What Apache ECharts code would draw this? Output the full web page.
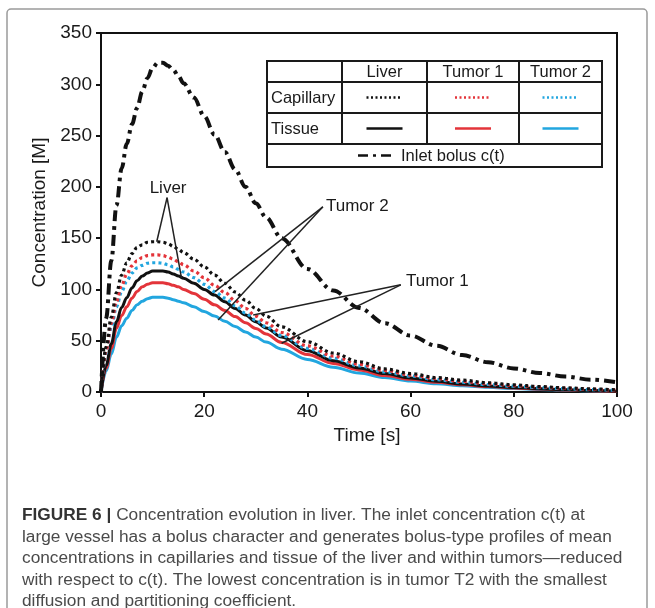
<!DOCTYPE html>
<html>
<head>
<meta charset="utf-8">
<script src="https://cdn.jsdelivr.net/npm/echarts@6/dist/echarts.min.js"></script>
<style>
html,body{margin:0;padding:0;background:#fff;}
#chart{width:655px;height:608px;}
</style>
</head>
<body>
<div id="chart"></div>
<script>
// ---- data ----
const time = [0,1,2,3,4,5,6,7,8,9,10,11,12,13,14,15,16,18,20,22,24,26,28,30,32,35,40,45,50,55,60,65,70,75,80,85,90,95,100];
const inletBolus = [0,72,128,182,218,242,261,277,293,306,316,321,321,318,314,308,301,287,269,251,234,217,200,184,170,150,120,99,82,67,55,45,36,29,23,18.5,15,12,9.5];
const liverCapillary = [0,44,73,97,114,126,135,141,143.5,146,146.5,146.5,146,144.5,142,139,136,129.5,122,114,106,97.5,89.5,81.5,74,63.5,49,38,29.5,22.5,18,14,11.5,9,7,5.3,4,3,2];
const tumor1Capillary = [0,40,67,88,104,115,123,128,131,133,133.6,133.6,133,131.5,129.5,127,124,118,111.5,104,97,89,81.5,74,67.5,58,45,35,27,21,16.5,13,10.3,8,6.2,4.8,3.6,2.6,1.8];
const tumor2Capillary = [0,38,63,83,98,108,116,121,123.5,125.5,126,126,125.5,124,122,119.5,117,111.5,105,98,91.5,84,77,70,63.5,55,42.5,33,25.5,19.5,15.5,12,9.5,7.3,5.6,4.3,3.2,2.3,1.6];
const liverTissue = [0,26,47,68.5,82.5,92,101.5,108.5,113,116,118,118,118,117,115,113,111,106,100,94.5,88,81.5,75,68.5,62.5,53.5,40.2,30.5,23.5,18,13.7,10.4,7.8,5.9,4.4,3.2,2.2,1.4,0.7];
const tumor1Tissue = [0,23.5,42.5,62,74.5,83,91.5,98,102.5,105,106.6,106.6,106.6,105.5,104,102.5,100,96,90.5,85,79.5,73.5,67.5,62,56.5,48.3,36.5,27.8,21.5,16,12.4,9.4,7,5.3,4,2.9,2,1.3,0.6];
const tumor2Tissue = [0,20.5,37,53.5,64.5,72,79.5,85,88.5,91,92.3,92.3,92.3,91.5,90,88.5,87,83,78.5,74,69,63.8,58.6,53.5,48.7,41.8,31.8,24.2,18.5,14.1,10.7,8,6,4.6,3.4,2.5,1.8,1.1,0.5];
const columnHeaders = ['Liver','Tumor 1','Tumor 2'];
const rowHeaders = ['Capillary','Tissue'];
const inletLabel = 'Inlet bolus c(t)';
const xAxisName = 'Time [s]';
const yAxisName = 'Concentration [M]';
const captionBold = 'FIGURE 6 |';
const captionLines = [
  ' Concentration evolution in liver. The inlet concentration c(t) at',
  'large vessel has a bolus character and generates bolus-type profiles of mean',
  'concentrations in capillaries and tissue of the liver and within tumors\u2014reduced',
  'with respect to c(t). The lowest concentration is in tumor T2 with the smallest',
  'diffusion and partitioning coefficient.'
];

// ---- chart ----
const FONT = '"Liberation Sans", Arial, Helvetica, sans-serif';
const BLACK = '#111';
const RED = '#e3343a';
const BLUE = '#22a6df';
const pairs = arr => time.map((t, i) => [t, arr[i]]);

const dotted = [3, 3.2];
const dashDot = [11, 5, 3.5, 5];

function curve(name, arr, color, type, width) {
  return {
    name, type: 'line', data: pairs(arr), showSymbol: false, symbol: 'none',
    smooth: 0.35, smoothMonotone: 'x', silent: true,
    lineStyle: { color, width, type, cap: 'butt' }, z: 3
  };
}

const chart = echarts.init(document.getElementById('chart'), null, { renderer: 'canvas' });

const option = {
  animation: false,
  backgroundColor: '#fff',
  grid: { left: 101, top: 33, width: 516, height: 359, show: true, borderColor: BLACK, borderWidth: 2, containLabel: false },
  xAxis: {
    type: 'value', min: 0, max: 100, interval: 20,
    name: xAxisName, nameLocation: 'middle', nameGap: 33,
    nameTextStyle: { fontFamily: FONT, fontSize: 19, color: '#1a1a1a', padding: [0, 0, 0, 16] },
    axisLine: { show: true, onZero: false, lineStyle: { color: BLACK, width: 2 } },
    axisTick: { show: true, inside: false, length: 5, lineStyle: { color: BLACK, width: 2 } },
    axisLabel: { fontFamily: FONT, fontSize: 19, color: '#1a1a1a', margin: 10 },
    splitLine: { show: false }
  },
  yAxis: {
    type: 'value', min: 0, max: 350, interval: 50,
    name: yAxisName, nameLocation: 'middle', nameGap: 45, nameRotate: 90,
    nameTextStyle: { fontFamily: FONT, fontSize: 19, color: '#1a1a1a' },
    axisLine: { show: true, onZero: false, lineStyle: { color: BLACK, width: 2 } },
    axisTick: { show: true, inside: false, length: 5, lineStyle: { color: BLACK, width: 2 } },
    axisLabel: { fontFamily: FONT, fontSize: 19, color: '#1a1a1a', margin: 9 },
    splitLine: { show: false }
  },
  series: [
    curve('Tumor 2 tissue', tumor2Tissue, BLUE, 'solid', 3),
    curve('Tumor 1 tissue', tumor1Tissue, RED, 'solid', 3),
    curve('Liver tissue', liverTissue, BLACK, 'solid', 3),
    curve('Tumor 2 capillary', tumor2Capillary, BLUE, dotted, 3.2),
    curve('Tumor 1 capillary', tumor1Capillary, RED, dotted, 3.2),
    curve('Liver capillary', liverCapillary, BLACK, dotted, 3.2),
    curve('Inlet bolus c(t)', inletBolus, BLACK, dashDot, 4),
    {
      name: 'annotations', type: 'line', data: [], silent: true, z: 5,
      markLine: {
        silent: true, symbol: ['none', 'none'], animation: false,
        label: { show: false },
        lineStyle: { color: '#222', width: 1.5, type: 'solid' },
        data: [
          [{ coord: [12.8, 189.5] }, { coord: [10.8, 146.5] }],
          [{ coord: [12.8, 189.5] }, { coord: [15.6, 111] }],
          [{ coord: [43.0, 180.5] }, { coord: [22.1, 97.8] }],
          [{ coord: [43.0, 180.5] }, { coord: [22.7, 70.2] }],
          [{ coord: [58.1, 104.5] }, { coord: [29.5, 75.1] }],
          [{ coord: [58.1, 104.5] }, { coord: [35.0, 47.5] }]
        ]
      },
      markPoint: {
        silent: true, symbol: 'circle', symbolSize: 0, animation: false,
        itemStyle: { color: 'rgba(0,0,0,0)' },
        label: { show: true, formatter: '{b}', fontFamily: FONT, fontSize: 17, color: '#1a1a1a' },
        data: [
          { name: 'Liver', coord: [13.0, 198.5], label: { position: 'inside' } },
          { name: 'Tumor 2', coord: [43.6, 181.3], label: { position: 'right', distance: 0 } },
          { name: 'Tumor 1', coord: [59.1, 107.5], label: { position: 'right', distance: 0 } }
        ]
      }
    }
  ]
};

// ---- legend table (graphic layout) ----
const T = { x0: 267, x1: 602, y0: 61, y1: 167, cols: [342, 427, 519], rows: [82, 113, 144] };
const g = [];
g.push({ type: 'rect', shape: { x: 7, y: 9, width: 640, height: 620, r: 4 }, style: { fill: 'none', stroke: '#9a9a9a', lineWidth: 1.5 }, silent: true, z: 0 });
g.push({ type: 'rect', shape: { x: T.x0, y: T.y0, width: T.x1 - T.x0, height: T.y1 - T.y0 }, style: { fill: '#fff', stroke: '#1a1a1a', lineWidth: 2 }, z: 10 });
T.cols.forEach(cx => g.push({ type: 'line', shape: { x1: cx, y1: T.y0, x2: cx, y2: T.rows[2] }, style: { stroke: '#1a1a1a', lineWidth: 2 }, z: 11 }));
T.rows.forEach(ry => g.push({ type: 'line', shape: { x1: T.x0, y1: ry, x2: T.x1, y2: ry }, style: { stroke: '#1a1a1a', lineWidth: 2 }, z: 11 }));
const colEdges = [T.cols[0], T.cols[1], T.cols[2], T.x1];
const tableFont = { fontFamily: FONT, fontSize: 16.5 };
columnHeaders.forEach((h, i) => {
  const cx = (colEdges[i] + colEdges[i + 1]) / 2;
  g.push({ type: 'text', x: cx, y: (T.y0 + T.rows[0]) / 2 + 1, style: Object.assign({ text: h, fill: '#1a1a1a', align: 'center', verticalAlign: 'middle' }, tableFont), z: 12 });
});
const rowY = [(T.rows[0] + T.rows[1]) / 2, (T.rows[1] + T.rows[2]) / 2];
rowHeaders.forEach((h, i) => {
  g.push({ type: 'text', x: T.x0 + 4, y: rowY[i] + 1, style: Object.assign({ text: h, fill: '#1a1a1a', align: 'left', verticalAlign: 'middle' }, tableFont), z: 12 });
});
const sampleColors = [BLACK, RED, BLUE];
sampleColors.forEach((c, i) => {
  const cx = (colEdges[i] + colEdges[i + 1]) / 2;
  g.push({ type: 'line', shape: { x1: cx - 18, y1: rowY[0], x2: cx + 18, y2: rowY[0] }, style: { stroke: c, lineWidth: 2.5, lineDash: [2, 2.5] }, z: 12 });
  g.push({ type: 'line', shape: { x1: cx - 18, y1: rowY[1], x2: cx + 18, y2: rowY[1] }, style: { stroke: c, lineWidth: 2.5 }, z: 12 });
});
const inletY = (T.rows[2] + T.y1) / 2;
g.push({ type: 'line', shape: { x1: 358, y1: inletY, x2: 394, y2: inletY }, style: { stroke: BLACK, lineWidth: 2.5, lineDash: [10, 5, 3, 5] }, z: 12 });
g.push({ type: 'text', x: 401, y: inletY + 1, style: Object.assign({ text: inletLabel, fill: '#1a1a1a', align: 'left', verticalAlign: 'middle' }, tableFont), z: 12 });

// ---- caption ----
const capY = [515, 537, 558.5, 580, 601];
const capFont = { fontFamily: FONT, fontSize: 17.3 };
g.push({
  type: 'text', x: 22, y: capY[0],
  style: {
    text: '{b|' + captionBold + '}{n|' + captionLines[0] + '}', verticalAlign: 'middle', align: 'left',
    rich: {
      b: { fontFamily: FONT, fontSize: 17.3, fontWeight: 'bold', fill: '#333', color: '#333' },
      n: { fontFamily: FONT, fontSize: 17.3, fill: '#4a4a4a', color: '#4a4a4a' }
    }
  }, z: 12
});
for (let i = 1; i < captionLines.length; i++) {
  g.push({ type: 'text', x: 22, y: capY[i], style: Object.assign({ text: captionLines[i], fill: '#4a4a4a', align: 'left', verticalAlign: 'middle' }, capFont), z: 12 });
}
option.graphic = { elements: g };

chart.setOption(option);
</script>
</body>
</html>
